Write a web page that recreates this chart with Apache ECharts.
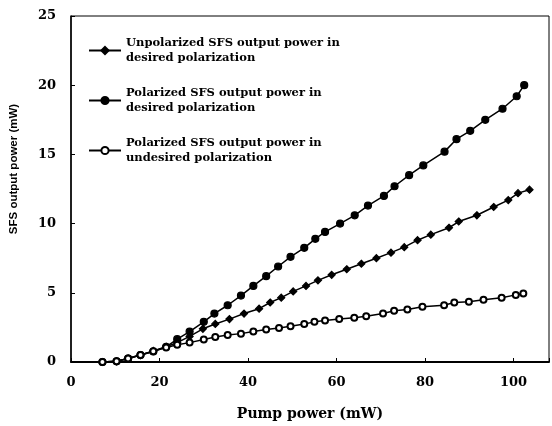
<!DOCTYPE html>
<html>
<head>
<meta charset="utf-8">
<script src="https://cdn.jsdelivr.net/npm/echarts@6/dist/echarts.min.js"></script>
<style>
  html, body { margin: 0; padding: 0; background: #fff; }
  #chart { width: 552px; height: 426px; }
</style>
</head>
<body>
<div id="chart"></div>
<script>
// pump power (mW) and output power (mW) for each curve
var unpolPump = [7.1, 10.3, 12.9, 15.7, 18.6, 21.5, 24.0, 26.8, 29.8, 32.6, 35.8, 39.1, 42.5, 45.0, 47.5, 50.2, 53.1, 55.8, 58.9, 62.3, 65.6, 69.0, 72.3, 75.3, 78.3, 81.3, 85.4, 87.6, 91.7, 95.5, 98.8, 101.0, 103.6];
var unpolOut = [0, 0.05, 0.25, 0.5, 0.8, 1.1, 1.4, 1.85, 2.4, 2.75, 3.1, 3.5, 3.85, 4.3, 4.65, 5.1, 5.5, 5.9, 6.3, 6.7, 7.1, 7.5, 7.9, 8.3, 8.8, 9.2, 9.7, 10.15, 10.6, 11.2, 11.7, 12.2, 12.45];

var polDesPump = [7.1, 10.3, 12.9, 15.7, 18.6, 21.5, 24.0, 26.8, 30.0, 32.4, 35.4, 38.4, 41.2, 44.1, 46.8, 49.6, 52.7, 55.2, 57.4, 60.8, 64.1, 67.1, 70.7, 73.1, 76.4, 79.6, 84.4, 87.1, 90.2, 93.6, 97.5, 100.7, 102.4];
var polDesOut = [0, 0.05, 0.25, 0.5, 0.76, 1.1, 1.65, 2.2, 2.9, 3.5, 4.1, 4.8, 5.5, 6.2, 6.9, 7.6, 8.25, 8.9, 9.4, 10.0, 10.6, 11.3, 12.0, 12.7, 13.5, 14.2, 15.2, 16.1, 16.7, 17.5, 18.3, 19.2, 20.0];

var polUndesPump = [7.1, 10.3, 12.9, 15.7, 18.6, 21.5, 24.0, 26.8, 30.0, 32.6, 35.4, 38.4, 41.2, 44.1, 47.0, 49.6, 52.7, 55.0, 57.4, 60.6, 64.0, 66.7, 70.5, 73.0, 76.0, 79.4, 84.3, 86.6, 89.9, 93.2, 97.3, 100.5, 102.2];
var polUndesOut = [0, 0.05, 0.25, 0.5, 0.78, 1.05, 1.25, 1.4, 1.62, 1.8, 1.95, 2.05, 2.2, 2.35, 2.45, 2.58, 2.75, 2.9, 3.0, 3.1, 3.2, 3.3, 3.5, 3.7, 3.8, 4.0, 4.1, 4.3, 4.35, 4.5, 4.65, 4.85, 4.95];

var seriesNames = [
  "Unpolarized SFS output power in\ndesired polarization",
  "Polarized SFS output power in\ndesired polarization",
  "Polarized SFS output power in\nundesired polarization"
];

function pairs(xs, ys) {
  return xs.map(function (x, i) { return [x, ys[i]]; });
}

var serifFont = "DejaVu Serif";

function makeSeries(name, data, symbol, size) {
  return {
    type: "line",
    name: name,
    data: data,
    symbol: symbol,
    symbolSize: size,
    showAllSymbol: true,
    animation: false,
    lineStyle: { color: "#000", width: 1.5 },
    itemStyle: { color: "#000", borderColor: "#000", borderWidth: 1.2 }
  };
}

var chart = echarts.init(document.getElementById("chart"));
var option = {
  backgroundColor: "#fff",
  animation: false,
  grid: {
    left: 70,
    right: 0,
    top: 16,
    bottom: 57,
    show: true,
    borderColor: "#000",
    borderWidth: 1
  },
  legend: {
    orient: "vertical",
    left: 88,
    top: 28,
    padding: 0,
    itemGap: 5,
    itemWidth: 32,
    itemHeight: 9,
    selectedMode: false,
    textStyle: {
      fontFamily: serifFont,
      fontWeight: "bold",
      fontSize: 11.5,
      lineHeight: 15,
      color: "#000",
      padding: [15, 0, 0, 0]
    }
  },
  xAxis: {
    type: "value",
    min: 0,
    max: 108,
    interval: 20,
    name: "Pump power (mW)",
    nameLocation: "middle",
    nameGap: 45,
    nameTextStyle: { fontFamily: serifFont, fontWeight: "bold", fontSize: 14, color: "#000" },
    axisLine: { show: true, lineStyle: { color: "#000", width: 2 } },
    axisTick: { show: true, inside: true, length: 4, lineStyle: { color: "#000" } },
    axisLabel: {
      margin: 14,
      fontFamily: serifFont,
      fontWeight: "bold",
      fontSize: 13,
      color: "#000",
      formatter: function (v) { return v % 20 === 0 ? String(v) : ""; }
    },
    splitLine: { show: false }
  },
  yAxis: {
    type: "value",
    min: 0,
    max: 25,
    interval: 5,
    name: "SFS output power (mW)",
    nameLocation: "middle",
    nameGap: 51,
    nameTextStyle: {
      fontFamily: "Liberation Sans",
      fontWeight: "bold",
      fontSize: 11.5,
      color: "#000",
      padding: [0, 0, 0, 40]
    },
    axisLine: { show: true, lineStyle: { color: "#000", width: 1.5 } },
    axisTick: { show: true, inside: true, length: 4, lineStyle: { color: "#000" } },
    axisLabel: { margin: 15, fontFamily: serifFont, fontWeight: "bold", fontSize: 13, color: "#000" },
    splitLine: { show: false }
  },
  series: [
    makeSeries(seriesNames[0], pairs(unpolPump, unpolOut), "diamond", 7),
    makeSeries(seriesNames[1], pairs(polDesPump, polDesOut), "circle", 7),
    makeSeries(seriesNames[2], pairs(polUndesPump, polUndesOut), "emptyCircle", 6)
  ]
};
chart.setOption(option);
</script>
</body>
</html>
